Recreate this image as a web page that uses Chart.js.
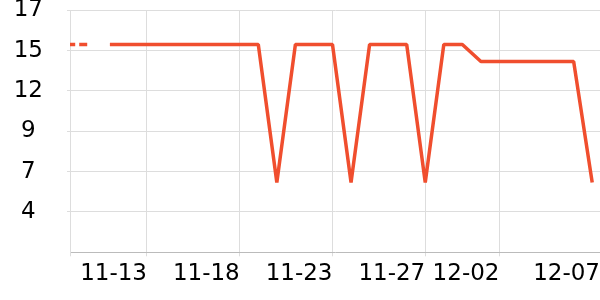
<!DOCTYPE html>
<html>
<head>
<meta charset="utf-8">
<script src="https://cdn.jsdelivr.net/npm/chart.js@4"></script>
<style>
  html, body { margin: 0; padding: 0; background: #fff; }
  #chart { display: block; }
</style>
</head>
<body>
<canvas id="chart" width="600" height="300"></canvas>
<script>
// x = days counted from 11-13
const dayOffsets = [-4.3, -3.2, -2.6, -2, -1, 0, 1, 2, 3, 4, 5, 6, 7, 8, 9, 10, 11, 12, 13, 14, 15, 16, 17, 18, 19, 20, 21, 22, 23, 24];
const values = [15, 15, null, 15, 15, 15, 15, 15, 15, 15, 15, 15, 6.1, 15, 15, 15, 6.1, 15, 15, 15, 6.1, 15, 15, 13.9, 13.9, 13.9, 13.9, 13.9, 13.9, 6.1];

const xMin = -4.15;
const xMax = 24.42;
const xTickValues = [xMin, 0, 5, 10, 15, 19, xMax];
const xTickLabels = ['', '11-13', '11-18', '11-23', '11-27', '12-02', '12-07'];

const yTickValues = [1.6, 4.2, 6.8, 9.4, 12, 14.6, 17.2];
const yTickLabels = ['', '4', '7', '9', '12', '15', '17'];

const LINE = '#f04e2e';
const GRID = '#dddddd';

Chart.defaults.font.family = "'DejaVu Sans'";
Chart.defaults.font.size = 23;
Chart.defaults.color = '#000';

const points = dayOffsets.map((d, i) => ({ x: d, y: values[i] }));

new Chart(document.getElementById('chart'), {
    type: 'line',
    data: {
        datasets: [{
            data: points,
            borderColor: LINE,
            borderWidth: 3.5,
            borderJoinStyle: 'bevel',
            pointRadius: 0,
            tension: 0,
            spanGaps: false,
            clip: 0,
            segment: {
                // first piece is drawn dashed
                borderDash: ctx => ctx.p0DataIndex === 0 ? [8, 4] : undefined
            }
        }]
    },
    options: {
        responsive: false,
        animation: false,
        layout: { padding: 0 },
        plugins: { legend: { display: false }, tooltip: { enabled: false } },
        scales: {
            x: {
                type: 'linear',
                min: xMin,
                max: xMax,
                afterBuildTicks: s => { s.ticks = xTickValues.map(v => ({ value: v })); },
                afterFit: s => {
                    s.height = 47.7;
                    s.paddingLeft = 0;
                    s.paddingRight = 0;
                },
                ticks: {
                    autoSkip: false,
                    maxRotation: 0,
                    align: 'end',
                    padding: 4,
                    callback: (v, i) => xTickLabels[i]
                },
                grid: {
                    color: c => c.index === xTickValues.length - 1 ? 'transparent' : GRID,
                    tickColor: c => c.index === xTickValues.length - 1 ? 'transparent' : GRID,
                    tickLength: 4
                },
                border: { color: '#bbbbbb' }
            },
            y: {
                min: yTickValues[0],
                max: yTickValues[yTickValues.length - 1],
                afterBuildTicks: s => { s.ticks = yTickValues.map(v => ({ value: v })); },
                afterFit: s => {
                    s.width = 70;
                    s.paddingTop = 10.3;
                    s.paddingBottom = 0;
                },
                ticks: {
                    autoSkip: false,
                    crossAlign: 'center',
                    padding: 24,
                    callback: (v, i) => yTickLabels[i]
                },
                grid: {
                    color: c => c.index === 0 ? 'transparent' : GRID,
                    tickColor: c => c.index === 0 ? 'transparent' : GRID,
                    tickLength: 3
                },
                border: { color: GRID }
            }
        }
    }
});
</script>
</body>
</html>
